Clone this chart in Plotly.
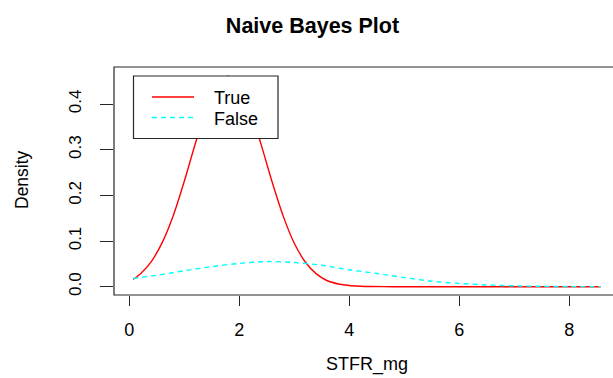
import plotly.graph_objects as go

# Class-conditional densities of STFR_mg
x_true = [0.07, 0.2, 0.4, 0.6, 0.8, 1.0, 1.2, 1.4, 1.6, 1.8, 2.0, 2.2, 2.4, 2.6,
          2.8, 3.0, 3.2, 3.4, 3.6, 3.8, 4.0, 4.2, 4.4, 4.8, 5.5, 6.5, 7.5, 8.57]
y_true = [0.016, 0.028, 0.055, 0.097, 0.156, 0.231, 0.313, 0.388, 0.442, 0.461,
          0.440, 0.386, 0.310, 0.228, 0.154, 0.095, 0.054, 0.028, 0.013, 0.006,
          0.0025, 0.001, 0.0003, 0.0, 0.0, 0.0, 0.0, 0.0]

x_false = [0.07, 0.5, 1.0, 1.5, 2.0, 2.5, 3.0, 3.5, 4.0, 4.5, 5.0, 5.5, 6.0,
           6.5, 7.0, 7.5, 8.0, 8.57]
y_false = [0.018, 0.025, 0.035, 0.044, 0.051, 0.055, 0.053, 0.047, 0.037, 0.029,
           0.020, 0.012, 0.007, 0.0038, 0.0019, 0.0008, 0.0003, 0.0001]

class_names = ["True", "False"]
x_ticks = [0, 2, 4, 6, 8]
y_ticks = [0.0, 0.1, 0.2, 0.3, 0.4]

W, H = 613, 378
L, R, T, B = 114, 0, 67, 83
PW, PH = W - L - R, H - T - B
FONT = "Liberation Sans, Arial, sans-serif"


def px(x):
    return (x - L) / PW


def py(y):
    return (H - B - y) / PH


fig = go.Figure()
fig.add_trace(go.Scatter(x=x_true, y=y_true, mode="lines", name=class_names[0],
                         line=dict(color="#ff0000", width=1.4, shape="spline",
                                   smoothing=0.8),
                         showlegend=False))
fig.add_trace(go.Scatter(x=x_false, y=y_false, mode="lines", name=class_names[1],
                         line=dict(color="#00ffff", width=1.4, dash="5px,4px",
                                   shape="spline", smoothing=0.8),
                         showlegend=False))

shapes = [
    # plot frame (open on the right, running past the page edge)
    dict(type="rect", xref="paper", yref="paper", x0=0, x1=1.05, y0=0, y1=1,
         line=dict(color="#262626", width=1.2), layer="above"),
    # legend box
    dict(type="rect", xref="paper", yref="paper", x0=px(133.5), x1=px(278),
         y0=py(138.5), y1=py(76), fillcolor="white",
         line=dict(color="#262626", width=1.2), layer="above"),
    dict(type="line", xref="paper", yref="paper", x0=px(152), x1=px(194),
         y0=py(97), y1=py(97), line=dict(color="#ff0000", width=1.4),
         layer="above"),
    dict(type="line", xref="paper", yref="paper", x0=px(152), x1=px(194),
         y0=py(117.5), y1=py(117.5),
         line=dict(color="#00ffff", width=1.4, dash="5px,4px"), layer="above"),
]

annotations = [
    dict(text=class_names[0], xref="paper", yref="paper", x=px(212), y=py(98),
         xanchor="left", yanchor="middle", showarrow=False,
         font=dict(family=FONT, size=18, color="black")),
    dict(text=class_names[1], xref="paper", yref="paper", x=px(212), y=py(118.5),
         xanchor="left", yanchor="middle", showarrow=False,
         font=dict(family=FONT, size=18, color="black")),
    dict(text="Density", xref="paper", yref="paper", x=px(22), y=py(180),
         xanchor="center", yanchor="middle", textangle=-90, showarrow=False,
         font=dict(family=FONT, size=17.5, color="black")),
    dict(text="STFR_mg", xref="paper", yref="paper", x=px(366.7), y=py(377),
         xanchor="center", yanchor="bottom", showarrow=False,
         font=dict(family=FONT, size=18, color="black")),
]

fig.update_layout(
    width=W, height=H,
    margin=dict(l=L, r=R, t=T, b=B, pad=0),
    paper_bgcolor="white", plot_bgcolor="white",
    title=dict(text="<b>Naive Bayes Plot</b>", xref="container", yref="container",
               x=312.5 / W, y=1 - 25 / H, xanchor="center", yanchor="middle",
               font=dict(family=FONT, size=21.5, color="black")),
    font=dict(family=FONT, size=18, color="black"),
    shapes=shapes,
    annotations=annotations,
    showlegend=False,
)

fig.update_xaxes(
    range=[(L - 129.3) / 55.0, (W - R - 129.3) / 55.0],
    tickmode="array", tickvals=x_ticks, ticktext=[str(v) for v in x_ticks],
    ticks="outside", ticklen=10, tickwidth=1.2, tickcolor="#262626",
    showgrid=False, zeroline=False, showline=False,
    ticklabelstandoff=8,
    tickfont=dict(family=FONT, size=18, color="black"),
)
fig.update_yaxes(
    range=[(286.7 - (H - B)) / 456.7, (286.7 - T) / 456.7],
    tickmode="array", tickvals=y_ticks, ticktext=[f"{v:.1f}" for v in y_ticks],
    ticks="outside", ticklen=13, tickwidth=1.2, tickcolor="#262626",
    tickangle=-90,
    showgrid=False, zeroline=False, showline=False,
    ticklabelstandoff=12,
    tickfont=dict(family=FONT, size=17, color="black"),
)

fig.write_html("out.html")
